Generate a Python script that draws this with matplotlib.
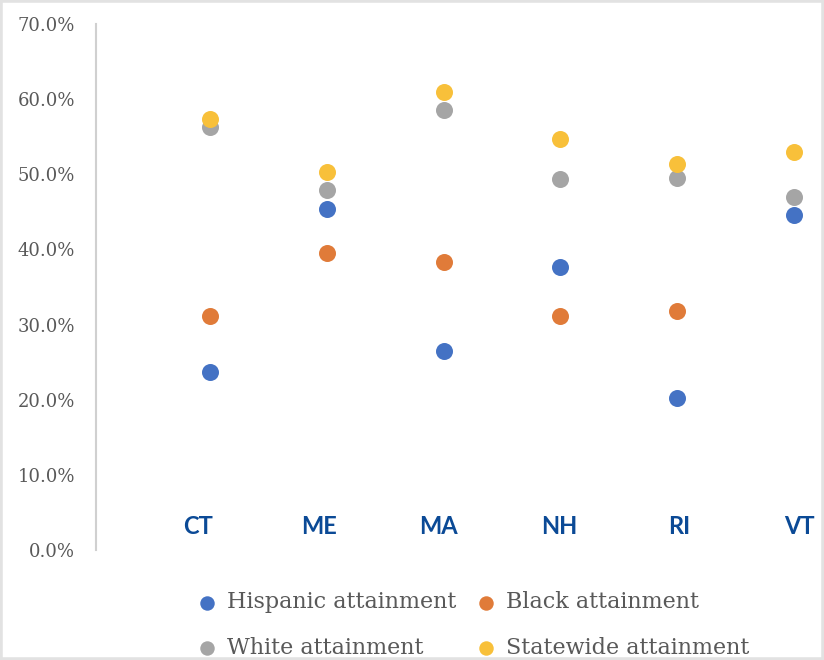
import matplotlib
matplotlib.use("Agg")
import matplotlib.pyplot as plt
from matplotlib.patches import Rectangle
import numpy as np

# attainment rates by New England state (percent)
states = ["CT", "ME", "MA", "NH", "RI", "VT"]
hispanic = [23.7, 45.4, 26.5, 37.7, 20.2, 44.6]
black = [31.2, 39.5, 38.3, 31.2, 31.8, np.nan]
white = [56.3, 47.9, 58.5, 49.4, 49.5, 47.0]
statewide = [57.3, 50.3, 61.0, 54.7, 51.4, 52.9]

series = [
    ("Hispanic attainment", hispanic, "#4472C4"),
    ("Black attainment", black, "#E07B39"),
    ("White attainment", white, "#A5A5A5"),
    ("Statewide attainment", statewide, "#F8C03A"),
]

fig = plt.figure(figsize=(8.24, 6.6), dpi=100)
ax = fig.add_axes([96 / 824, 110 / 660, 1 - 96 / 824, 526 / 660])

x = np.arange(1, len(states) + 1)
handles = []
for name, vals, color in series:
    h = ax.scatter(x, vals, s=150, color=color, label=name, zorder=3, linewidths=0)
    handles.append(h)

ax.set_xlim(0.024, 6.257)
ax.set_ylim(0, 70)
ax.set_yticks(np.arange(0, 71, 10))
ax.set_yticklabels([f"{v:.1f}%" for v in range(0, 71, 10)],
                   family="DejaVu Serif", fontsize=13, color="#595959")
ax.tick_params(axis="y", length=0, pad=15)
ax.set_xticks([])

for side in ["top", "right", "bottom"]:
    ax.spines[side].set_visible(False)
ax.spines["left"].set_color("#D0D0D0")
ax.spines["left"].set_linewidth(1.5)

# state names sit inside the plot, just above the baseline;
# they are spaced a little wider than the point columns
label_x = 0.90 + 1.03 * (x - 1)
for lx, st in zip(label_x, states):
    ax.text(lx, 3.1, st, ha="center", va="center", fontsize=17,
            fontweight="bold", family="Lato", color="#0B4A96")

# legend reads row by row: Hispanic, Black / White, Statewide
order = [0, 2, 1, 3]
leg = fig.legend([handles[i] for i in order], [series[i][0] for i in order],
                 loc="center", bbox_to_anchor=(0.567, 0.053), ncol=2,
                 frameon=False, handletextpad=-0.1, columnspacing=0.3,
                 labelspacing=1.05, markerscale=0.85,
                 prop={"family": "DejaVu Serif", "size": 16})
for t in leg.get_texts():
    t.set_color("#595959")

# light frame around the whole figure
fig.patches.append(Rectangle((0, 0), 1, 1, transform=fig.transFigure,
                             fill=False, edgecolor="#E2E2E2", linewidth=4))

fig.savefig("out.png", dpi=100)
